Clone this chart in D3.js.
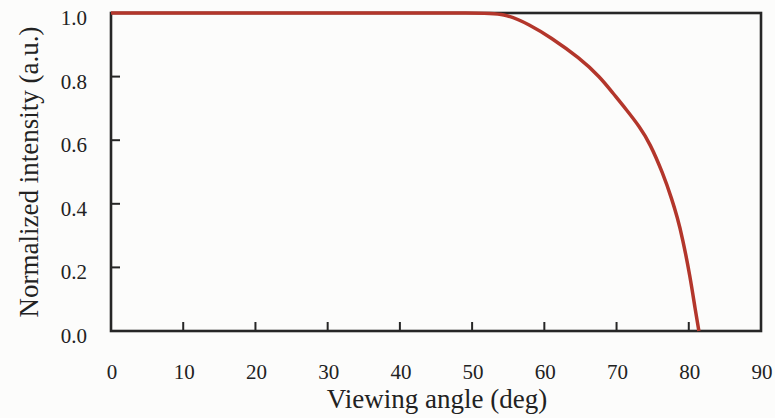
<!DOCTYPE html>
<html>
<head>
<meta charset="utf-8">
<script src="https://cdn.jsdelivr.net/npm/d3@7"></script>
<style>
  body { margin: 0; background: #fcfcfb; }
  svg { display: block; }
  .tick-label { font-family: "Liberation Serif", "Times New Roman", serif; font-size: 21px; fill: #222; }
  .axis-title { font-family: "Liberation Serif", "Times New Roman", serif; font-size: 27px; fill: #222; }
</style>
</head>
<body>
<div id="chart"></div>
<script>
// Viewing angle (deg) vs normalized intensity
const angles = [0, 10, 20, 30, 40, 50, 54.6, 58.0, 60.8, 64.9, 67.7, 69.5, 71.4, 73.2, 74.6, 76.4, 77.7, 78.4, 79.1, 80.2, 80.9, 81.4];
const intensity = [1.0, 1.0, 1.0, 1.0, 1.0, 1.0, 1.0, 0.962, 0.925, 0.858, 0.799, 0.748, 0.695, 0.642, 0.591, 0.497, 0.412, 0.358, 0.296, 0.170, 0.066, 0.0];

const xTicks = [0, 10, 20, 30, 40, 50, 60, 70, 80, 90];
const yTicks = [0.0, 0.2, 0.4, 0.6, 0.8, 1.0];

const W = 775, H = 418;
const margin = { top: 13, right: 14, bottom: 87, left: 111 };
const width = W - margin.left - margin.right,
  height = H - margin.top - margin.bottom;

const svg = d3
  .select("#chart")
  .append("svg")
  .attr("width", W)
  .attr("height", H);

const g = svg.append("g").attr("transform", `translate(${margin.left},${margin.top})`);

const x = d3.scaleLinear().domain([0, 90]).range([0, width]);
const y = d3.scaleLinear().domain([0, 1]).range([height, 0]);

// frame
g.append("rect")
  .attr("width", width)
  .attr("height", height)
  .attr("fill", "none")
  .attr("stroke", "#262626")
  .attr("stroke-width", 2.6);

// inward ticks, bottom and left only
g.selectAll(".xt")
  .data(xTicks.slice(1, -1))
  .enter()
  .append("line")
  .attr("x1", (d) => x(d))
  .attr("x2", (d) => x(d))
  .attr("y1", height)
  .attr("y2", height - 9)
  .attr("stroke", "#262626")
  .attr("stroke-width", 2);

g.selectAll(".yt")
  .data(yTicks.slice(1, -1))
  .enter()
  .append("line")
  .attr("x1", 0)
  .attr("x2", 9)
  .attr("y1", (d) => y(d))
  .attr("y2", (d) => y(d))
  .attr("stroke", "#262626")
  .attr("stroke-width", 2);

// tick labels
g.selectAll(".xl")
  .data(xTicks)
  .enter()
  .append("text")
  .attr("class", "tick-label")
  .attr("x", (d) => x(d) + 1)
  .attr("y", height + 48)
  .attr("text-anchor", "middle")
  .text((d) => d);

g.selectAll(".yl")
  .data(yTicks)
  .enter()
  .append("text")
  .attr("class", "tick-label")
  .attr("x", -24)
  .attr("y", (d) => y(d) + 12)
  .attr("text-anchor", "end")
  .text((d) => d.toFixed(1));

// axis titles
g.append("text")
  .attr("class", "axis-title")
  .attr("x", width / 2 + 1)
  .attr("y", height + 77)
  .attr("text-anchor", "middle")
  .text("Viewing angle (deg)");

g.append("text")
  .attr("class", "axis-title")
  .attr("transform", `translate(${-111 + 38},${height / 2}) rotate(-90)`)
  .attr("text-anchor", "middle")
  .text("Normalized intensity (a.u.)");

// curve (smoothed through the read-off points)
const line = d3
  .line()
  .x((d, i) => x(angles[i]))
  .y((d) => y(d))
  .curve(d3.curveBasis);

g.append("path")
  .datum(intensity)
  .attr("d", line)
  .attr("fill", "none")
  .attr("stroke", "#b3362b")
  .attr("stroke-width", 3.5);
</script>
</body>
</html>
